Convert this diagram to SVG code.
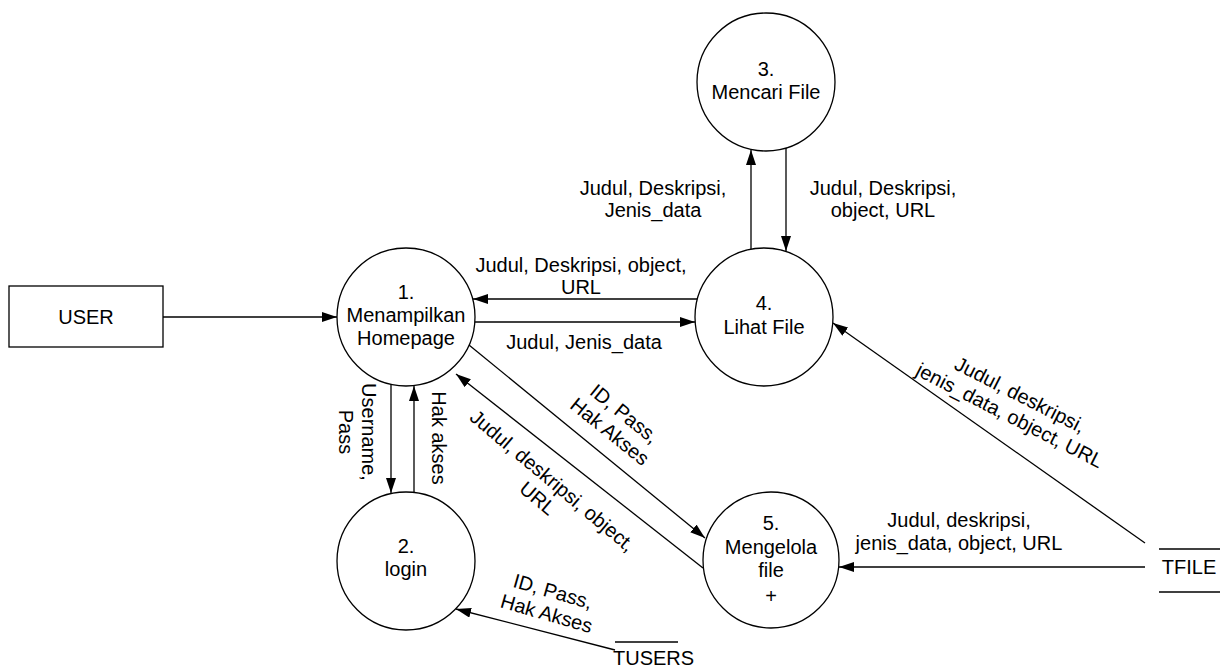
<svg xmlns="http://www.w3.org/2000/svg" width="1232" height="668" viewBox="0 0 1232 668">
<style>
text{font-family:"Liberation Sans",Arial,sans-serif;font-size:20px;fill:#000}
.c{text-anchor:middle}
.n{fill:#fff;stroke:#000;stroke-width:1.3}
.l{fill:none;stroke:#000;stroke-width:1.3}
.a{marker-end:url(#arr)}
</style>
<defs>
<marker id="arr" viewBox="0 0 15 10" refX="15" refY="5" markerWidth="15" markerHeight="10" markerUnits="userSpaceOnUse" orient="auto">
<path d="M0,0 L15,5 L0,10 z" fill="#000"/>
</marker>
</defs>
<rect width="1232" height="668" fill="#fff"/>
<g id="connectors">
<line class="l a" x1="163" y1="317" x2="337" y2="317"/>
<line class="l a" x1="697" y1="299" x2="473" y2="299"/>
<line class="l a" x1="475" y1="322" x2="695" y2="322"/>
<line class="l a" x1="751" y1="249" x2="751" y2="150"/>
<line class="l a" x1="786" y1="148" x2="786" y2="251"/>
<line class="l a" x1="391" y1="384" x2="391" y2="493"/>
<line class="l a" x1="414" y1="492" x2="414" y2="386"/>
<line class="l a" x1="469" y1="345" x2="705" y2="538"/>
<line class="l a" x1="703" y1="568" x2="456" y2="374"/>
<line class="l a" x1="615" y1="650" x2="456" y2="609"/>
<line class="l a" x1="1145" y1="543" x2="833" y2="323"/>
<line class="l a" x1="1145" y1="567" x2="839" y2="567"/>
<text class="c" x="581" y="272">Judul, Deskripsi, object,<tspan x="581" dy="22">URL</tspan></text>
<text class="c" x="584" y="349">Judul, Jenis_data</text>
<text class="c" x="653" y="195">Judul, Deskripsi,<tspan x="653" dy="22">Jenis_data</tspan></text>
<text class="c" x="883" y="195">Judul, Deskripsi,<tspan x="883" dy="22">object, URL</tspan></text>
<text class="c" transform="translate(362,432) rotate(90)" x="0" y="0">Username,<tspan x="0" dy="23">Pass</tspan></text>
<text class="c" transform="translate(432,438) rotate(90)" x="0" y="0">Hak akses</text>
<text class="c" transform="translate(620,419) rotate(39)" x="0" y="0">ID, Pass,<tspan x="0" dy="23">Hak Akses</tspan></text>
<text class="c" transform="translate(548,486) rotate(40)" x="0" y="0">Judul, deskripsi, object,<tspan x="0" dy="23">URL</tspan></text>
<text class="c" transform="translate(551,598) rotate(16)" x="0" y="0">ID, Pass,<tspan x="0" dy="23">Hak Akses</tspan></text>
<text class="c" transform="translate(1017,401) rotate(27)" x="0" y="0">Judul, deskripsi,<tspan x="0" dy="23">jenis_data, object, URL</tspan></text>
<text class="c" x="959" y="527">Judul, deskripsi,<tspan x="959" dy="23">jenis_data, object, URL</tspan></text>
</g>
<g id="user">
<rect class="n" x="9" y="286" width="154" height="61"/>
<text class="c" x="86" y="324">USER</text>
</g>
<g id="p1">
<circle class="n" cx="406" cy="317" r="69"/>
<text class="c" x="406" y="299">1.<tspan x="406" dy="23">Menampilkan</tspan><tspan x="406" dy="23">Homepage</tspan></text>
</g>
<g id="p2">
<circle class="n" cx="406" cy="561" r="69"/>
<text class="c" x="406" y="553">2.<tspan x="406" dy="23">login</tspan></text>
</g>
<g id="p3">
<circle class="n" cx="766" cy="82" r="69"/>
<text class="c" x="766" y="76">3.<tspan x="766" dy="23">Mencari File</tspan></text>
</g>
<g id="p4">
<circle class="n" cx="764" cy="317" r="69"/>
<text class="c" x="764" y="310">4.<tspan x="764" dy="24">Lihat File</tspan></text>
</g>
<g id="p5">
<circle class="n" cx="771" cy="560" r="68"/>
<text class="c" x="771" y="530">5.<tspan x="771" dy="24">Mengelola</tspan><tspan x="771" dy="23">file</tspan><tspan x="771" dy="26">+</tspan></text>
</g>
<g id="tfile">
<line class="l" x1="1159" y1="549" x2="1220" y2="549"/>
<line class="l" x1="1159" y1="592" x2="1220" y2="592"/>
<text class="c" x="1189" y="574">TFILE</text>
</g>
<g id="tusers">
<line class="l" x1="615" y1="642" x2="678" y2="642"/>
<text x="613" y="665">TUSERS</text>
</g>
</svg>
